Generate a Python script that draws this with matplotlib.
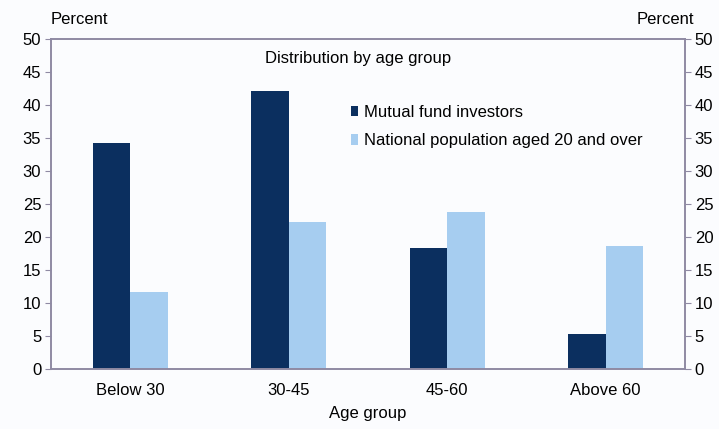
import matplotlib
matplotlib.use("Agg")
import matplotlib.pyplot as plt
import numpy as np

categories = ["Below 30", "30-45", "45-60", "Above 60"]
mutual_fund = [34.2, 42.1, 18.3, 5.3]
national_pop = [11.7, 22.3, 23.8, 18.7]
yticks = [0, 5, 10, 15, 20, 25, 30, 35, 40, 45, 50]

plt.rcParams['font.family'] = ['Liberation Sans', 'DejaVu Sans']
dark = "#0b2f5f"
light = "#a6cdf0"
frame = "#8f8aa3"
bg = "#fbfcfe"

fig = plt.figure(figsize=(7.19, 4.29), dpi=100, facecolor=bg)
ax = fig.add_axes([0.0709, 0.1399, 0.8818, 0.7692], facecolor=bg)

x = np.arange(len(categories))
w = 0.236
ax.bar(x - w/2, mutual_fund, width=w, color=dark, label="Mutual fund investors")
ax.bar(x + w/2, national_pop, width=w, color=light, label="National population aged 20 and over")

ax.set_xlim(-0.5, len(categories) - 0.5)
ax.set_ylim(0, 50)
ax.set_yticks(yticks)
ax.set_xticks(x)
ax.set_xticklabels(categories, fontsize=12)
ax.tick_params(axis='x', length=0, pad=10)
ax.tick_params(axis='y', direction='out', length=4, color=frame, labelsize=12, pad=3)

for s in ax.spines.values():
    s.set_color(frame)
    s.set_linewidth(1.2)

ax2 = ax.twinx()
ax2.set_ylim(0, 50)
ax2.set_yticks(yticks)
ax2.tick_params(axis='y', direction='out', length=4, color=frame, labelsize=12, pad=3)
for s in ax2.spines.values():
    s.set_color(frame)
    s.set_linewidth(1.2)

ax.set_xlabel("Age group", fontsize=12, labelpad=6)
fig.text(51/719, 1 - 20/429, "Percent", fontsize=12, ha='left', va='center')
fig.text(694/719, 1 - 20/429, "Percent", fontsize=12, ha='right', va='center')
ax.text(0.485, 0.94, "Distribution by age group", transform=ax.transAxes,
        fontsize=12, ha='center', va='center')

ax.legend(loc='upper left', bbox_to_anchor=(0.462, 0.82), frameon=False,
          fontsize=12, handlelength=0.45, handleheight=0.6, handletextpad=0.35,
          labelspacing=0.8, borderaxespad=0)

fig.savefig("out.png", dpi=100, facecolor=bg)
